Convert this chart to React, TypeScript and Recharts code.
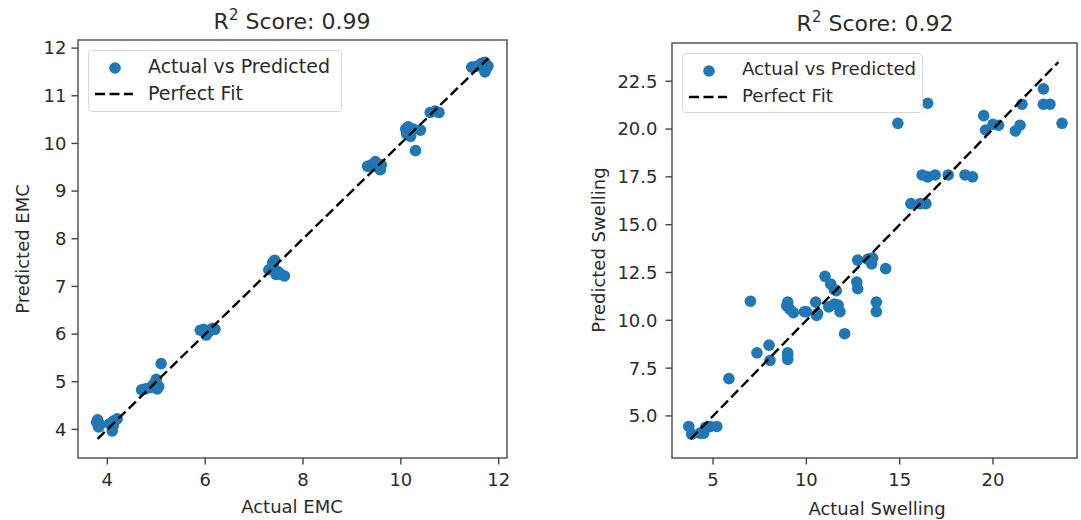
import { ReferenceArea, Scatter, ScatterChart, XAxis, YAxis } from "recharts";

// EMC model: actual vs predicted
const emcActual = [
  3.78, 3.8, 3.82, 3.85, 4.05, 4.1, 4.13, 4.2, 4.12,
  4.7, 4.78, 4.88, 4.95, 5.0, 5.02, 5.05, 5.1,
  5.9, 5.97, 6.02, 6.08, 6.15, 6.2,
  7.3, 7.38, 7.42, 7.45, 7.5, 7.55, 7.62, 7.4,
  9.32, 9.4, 9.48, 9.52, 9.58, 9.6,
  10.1, 10.12, 10.15, 10.2, 10.25, 10.3, 10.4, 10.2,
  10.6, 10.7, 10.78,
  11.45, 11.55, 11.65, 11.72, 11.75, 11.72, 11.78,
];
const emcPredicted = [
  4.15, 4.2, 4.05, 4.1, 4.12, 3.97, 4.18, 4.22, 4.08,
  4.83, 4.85, 4.88, 4.95, 5.05, 4.85, 4.9, 5.38,
  6.08, 6.1, 5.98, 6.05, 6.12, 6.1,
  7.35, 7.5, 7.55, 7.25, 7.3, 7.25, 7.22, 7.4,
  9.52, 9.55, 9.62, 9.5, 9.45, 9.55,
  10.3, 10.2, 10.35, 10.28, 10.3, 9.85, 10.28, 10.15,
  10.65, 10.68, 10.65,
  11.6, 11.62, 11.68, 11.7, 11.58, 11.5, 11.62,
];
const emcFit = [3.8, 11.78];
const emcTicks = [4, 6, 8, 10, 12];
const emcYTicks = [4, 5, 6, 7, 8, 9, 10, 11, 12];

// Swelling model: actual vs predicted
const swActual = [
  3.7, 3.85, 4.3, 4.5, 4.6, 4.85, 5.2,
  5.85, 7.0, 7.35, 8.0, 8.05, 9.0, 9.0, 9.0,
  8.95, 9.0, 9.1, 9.3, 9.9, 10.0, 10.5, 10.6, 10.55,
  11.0, 11.3, 11.5, 11.7, 11.8, 11.2, 11.5, 11.6, 12.05,
  12.7, 12.75, 12.75, 13.3, 13.55, 13.5, 13.75, 13.75, 14.25,
  14.9, 15.6, 16.1, 16.4, 16.2, 16.5, 16.9, 17.6, 18.5, 18.9,
  16.5, 19.5, 19.6, 20.0, 20.3, 21.2, 21.45, 21.55, 22.7, 22.7, 23.05, 23.7,
];
const swPredicted = [
  4.45, 4.05, 4.1, 4.1, 4.4, 4.45, 4.45,
  6.95, 11.0, 8.3, 8.7, 7.9, 8.3, 7.95, 8.15,
  10.75, 10.95, 10.6, 10.4, 10.45, 10.45, 10.95, 10.35, 10.25,
  12.3, 11.9, 11.6, 10.8, 10.45, 10.7, 10.85, 11.55, 9.3,
  12.0, 11.65, 13.15, 13.2, 13.25, 12.95, 10.95, 10.45, 12.7,
  20.3, 16.1, 16.1, 16.1, 17.6, 17.5, 17.6, 17.6, 17.6, 17.5,
  21.35, 20.7, 19.95, 20.25, 20.2, 19.9, 20.2, 21.3, 22.1, 21.3, 21.3, 20.3,
];
const swFit = [3.8, 23.5];
const swTicks = [5, 10, 15, 20];
const swYTicks = [5, 7.5, 10, 12.5, 15, 17.5, 20, 22.5];

const BLUE = "#1f77b4";
const FONT = "DejaVu Sans, sans-serif";
const TXT = "#2b2b2b";
const DASH = "10 4.5";

const dot = (p: any) => <circle cx={p.cx} cy={p.cy} r={5.8} fill={BLUE} />;
const noDot = () => <g />;

function Panel(props: {
  actual: number[];
  predicted: number[];
  fit: number[];
  domain: [number, number];
  xTicks: number[];
  yTicks: number[];
  yFmt?: (v: number) => string;
  width: number;
  margin: { top: number; right: number; bottom: number; left: number };
  yWidth: number;
  yGap: number;
}) {
  const pts = props.actual.map((x, i) => ({ x, y: props.predicted[i] }));
  const line = props.fit.map((v) => ({ x: v, y: v }));
  const [lo, hi] = props.domain;
  const tick = { fontSize: 18, fill: TXT, fontFamily: FONT };
  return (
    <ScatterChart width={props.width} height={520} margin={props.margin}>
      <XAxis
        type="number"
        dataKey="x"
        domain={[lo, hi]}
        ticks={props.xTicks}
        allowDataOverflow
        axisLine={false}
        tickLine={{ stroke: "#444", strokeWidth: 1.4 }}
        tickSize={6.5}
        tickMargin={9}
        height={30}
        tick={tick}
      />
      <YAxis
        type="number"
        dataKey="y"
        domain={[lo, hi]}
        ticks={props.yTicks}
        allowDataOverflow
        axisLine={false}
        tickLine={{ stroke: "#444", strokeWidth: 1.4 }}
        tickSize={6.5}
        tickMargin={props.yGap}
        width={props.yWidth}
        tick={tick}
        tickFormatter={props.yFmt}
      />
      <Scatter data={pts} shape={dot} isAnimationActive={false} />
      <Scatter
        data={line}
        shape={noDot}
        line={{ stroke: "#000", strokeWidth: 2.4, strokeDasharray: DASH }}
        isAnimationActive={false}
      />
      <ReferenceArea x1={lo} x2={hi} y1={lo} y2={hi} fill="none" stroke="#555" strokeWidth={1.5} />
    </ScatterChart>
  );
}

function LegendBox({ left, top, width, height, size }: { left: number; top: number; width: number; height: number; size: number }) {
  return (
    <div
      style={{
        position: "absolute",
        left,
        top,
        width,
        height,
        boxSizing: "border-box",
        border: "1px solid #d8d8d8",
        borderRadius: 4,
        background: "rgba(255,255,255,0.85)",
        fontSize: size,
        lineHeight: "22px",
        color: TXT,
      }}
    >
      <svg style={{ position: "absolute", left: 0, top: 0 }} width={width} height={height}>
        <circle cx={26} cy={17} r={5.8} fill={BLUE} />
        <line x1={6} x2={44} y1={43} y2={43} stroke="#000" strokeWidth={2.4} strokeDasharray={DASH} />
      </svg>
      <div style={{ position: "absolute", left: 59, top: 4, whiteSpace: "nowrap" }}>Actual vs Predicted</div>
      <div style={{ position: "absolute", left: 59, top: 31, whiteSpace: "nowrap" }}>Perfect Fit</div>
    </div>
  );
}

function Text({ x, y, size, rotate, children }: { x: number; y: number; size: number; rotate?: boolean; children: any }) {
  return (
    <div
      style={{
        position: "absolute",
        left: x,
        top: y,
        transform: `translate(-50%, -50%)${rotate ? " rotate(-90deg)" : ""}`,
        whiteSpace: "nowrap",
        fontSize: size,
        color: TXT,
      }}
    >
      {children}
    </div>
  );
}

export default function App() {
  return (
    <div
      style={{
        position: "absolute",
        left: 0,
        top: 0,
        width: 1081,
        height: 520,
        background: "#fff",
        fontFamily: FONT,
        overflow: "hidden",
      }}
    >
      <div style={{ position: "absolute", left: 0, top: 0 }}>
        <Panel
          actual={emcActual}
          predicted={emcPredicted}
          fit={emcFit}
          domain={[3.4, 12.17]}
          xTicks={emcTicks}
          yTicks={emcYTicks}
          width={540}
          margin={{ top: 40, right: 33, bottom: 32, left: 30 }}
          yWidth={48}
          yGap={5}
        />
      </div>
      <div style={{ position: "absolute", left: 540, top: 0 }}>
        <Panel
          actual={swActual}
          predicted={swPredicted}
          fit={swFit}
          domain={[2.8, 24.5]}
          xTicks={swTicks}
          yTicks={swYTicks}
          yFmt={(v) => v.toFixed(1)}
          width={541}
          margin={{ top: 43, right: 4, bottom: 32, left: 64 }}
          yWidth={68}
          yGap={8}
        />
      </div>
      <LegendBox left={88} top={50} width={254} height={62} size={19} />
      <LegendBox left={682} top={53} width={241} height={60} size={18.2} />
      <Text x={292} y={20} size={22}>
        R<sup style={{ fontSize: 15 }}>2</sup> Score: 0.99
      </Text>
      <Text x={875} y={22} size={22}>
        R<sup style={{ fontSize: 15 }}>2</sup> Score: 0.92
      </Text>
      <Text x={292} y={506} size={18}>Actual EMC</Text>
      <Text x={877} y={508} size={18}>Actual Swelling</Text>
      <Text x={22} y={249} size={18} rotate>Predicted EMC</Text>
      <Text x={598} y={250} size={18} rotate>Predicted Swelling</Text>
    </div>
  );
}
